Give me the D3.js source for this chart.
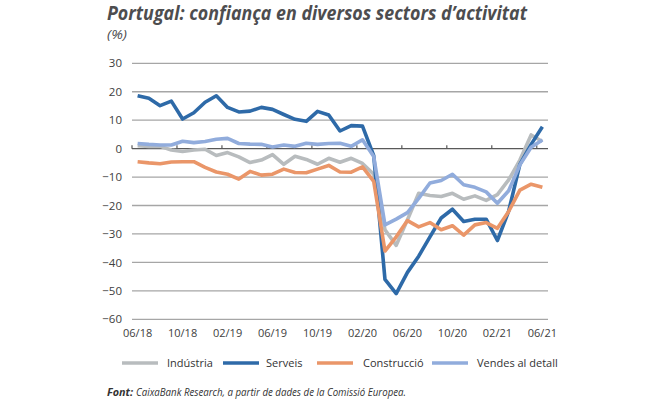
<!DOCTYPE html>
<html>
<head>
<meta charset="utf-8">
<script src="https://cdn.jsdelivr.net/npm/d3@7"></script>
<style>
  html, body { margin: 0; padding: 0; background: #fff; }
  svg { display: block; }
  text { font-family: "Open Sans", "Noto Sans", sans-serif; }
</style>
</head>
<body>
<svg id="chart" width="670" height="399"></svg>
<script>
const months = ["06/18","07/18","08/18","09/18","10/18","11/18","12/18","01/19","02/19","03/19","04/19","05/19",
  "06/19","07/19","08/19","09/19","10/19","11/19","12/19","01/20","02/20","03/20","04/20","05/20",
  "06/20","07/20","08/20","09/20","10/20","11/20","12/20","01/21","02/21","03/21","04/21","05/21","06/21"];
const tickLabels = ["06/18","10/18","02/19","06/19","10/19","02/20","06/20","10/20","02/21","06/21"];
const yTicks = [30, 20, 10, 0, -10, -20, -30, -40, -50, -60];

const industria = [1.0, 0.8, 0.8, -0.5, -1.0, -0.5, -0.2, -2.4, -1.4, -2.9, -4.9, -4.0, -2.1, -5.5, -2.7, -3.8,
  -5.5, -3.4, -4.8, -3.4, -5.2, -9.0, -28.5, -34.0, -25.0, -15.7, -16.5, -16.8, -15.7, -17.8, -16.6, -18.2,
  -16.2, -11.0, -4.0, 4.8, 2.5];
const serveis = [18.6, 17.7, 15.1, 16.7, 10.4, 12.6, 16.3, 18.6, 14.5, 12.9, 13.2, 14.5, 13.8, 12.0, 10.3, 9.6,
  13.1, 11.8, 6.2, 8.1, 7.9, -2.5, -46.0, -51.0, -43.5, -37.8, -31.0, -24.4, -21.3, -25.6, -24.8, -24.8,
  -32.3, -22.0, -5.5, 1.5, 7.7];
const construccio = [-4.6, -5.0, -5.3, -4.7, -4.6, -4.6, -6.6, -8.2, -9.0, -10.7, -8.0, -9.3, -9.0, -7.2, -8.4, -8.5,
  -7.2, -5.9, -8.2, -8.3, -6.4, -11.5, -36.0, -31.0, -25.3, -27.5, -26.0, -28.5, -27.1, -30.4, -26.8, -26.0,
  -28.0, -22.1, -14.6, -12.5, -13.6];
const vendes = [1.8, 1.5, 1.3, 1.3, 2.6, 2.1, 2.5, 3.3, 3.6, 1.8, 1.6, 1.5, 0.6, 1.3, 0.8, 1.9,
  1.5, 1.8, 1.9, 0.8, 3.1, -2.8, -26.8, -24.8, -22.5, -17.5, -12.1, -11.2, -9.0, -12.7, -13.6, -15.2,
  -19.2, -14.8, -5.7, 0.5, 3.0];

const seriesNames = ["Indústria", "Serveis", "Construcció", "Vendes al detall"];
const seriesColors = ["#b8bcbe", "#2e6aa8", "#ea9669", "#91acdc"];
const seriesValues = [industria, serveis, construccio, vendes];

const svg = d3.select("#chart");
const x = d3.scaleBand().domain(months).range([132, 548]).padding(0);
const y = d3.scaleLinear().domain([-60, 30]).range([319.3, 63.3]);
const cx = m => x(m) + x.bandwidth() / 2;

// Title
svg.append("text").attr("x", 107).attr("y", 20)
  .attr("font-size", 19).attr("font-weight", "bold").attr("font-style", "italic")
  .attr("fill", "#4d4d4f").attr("textLength", 420).attr("lengthAdjust", "spacingAndGlyphs")
  .text("Portugal: confiança en diversos sectors d’activitat");
svg.append("text").attr("x", 107).attr("y", 39)
  .attr("font-size", 12.5).attr("font-style", "italic").attr("fill", "#4d4d4f")
  .attr("textLength", 20).attr("lengthAdjust", "spacingAndGlyphs")
  .text("(%)");

// Gridlines
svg.append("g").selectAll("line").data(yTicks.filter(d => d !== 0)).join("line")
  .attr("x1", 132).attr("x2", 548)
  .attr("y1", d => y(d)).attr("y2", d => y(d))
  .attr("stroke", "#a6a6a6").attr("stroke-width", 1.3);

// Y axis labels
const yAxis = d3.axisLeft(y).tickValues(yTicks).tickSize(0).tickPadding(0);
const yg = svg.append("g").attr("transform", "translate(122,0)").call(yAxis);
yg.select(".domain").remove();
yg.selectAll("text").attr("font-size", 11.5).attr("fill", "#404040")
  .attr("font-family", "'Open Sans', sans-serif");

// Zero axis line with ticks
svg.append("line").attr("x1", 132).attr("x2", 548).attr("y1", y(0)).attr("y2", y(0))
  .attr("stroke", "#595959").attr("stroke-width", 1.3);
const tickMonths = months.filter((m, i) => i % 4 === 0);
svg.append("g").selectAll("line").data(tickMonths).join("line")
  .attr("x1", d => x(d)).attr("x2", d => x(d))
  .attr("y1", y(0) - 3.5).attr("y2", y(0))
  .attr("stroke", "#595959").attr("stroke-width", 1.2);

// X labels
const xAxis = d3.axisBottom(x).tickValues(tickLabels).tickSize(0).tickPadding(0);
const xg = svg.append("g").attr("transform", "translate(0,329)").call(xAxis);
xg.select(".domain").remove();
xg.selectAll("text").attr("font-size", 11).attr("fill", "#404040")
  .attr("font-family", "'Open Sans', sans-serif");

// Lines
const line = d3.line().x((d, i) => cx(months[i])).y(d => y(d));
seriesValues.forEach((vals, k) => {
  svg.append("path").datum(vals)
    .attr("d", line)
    .attr("fill", "none")
    .attr("stroke", seriesColors[k])
    .attr("stroke-width", 3.6)
    .attr("stroke-linejoin", "round")
    .attr("stroke-linecap", "butt");
});

// Legend
const legendPos = [
  {x1: 122, x2: 158, tx: 167},
  {x1: 223, x2: 259, tx: 266},
  {x1: 317, x2: 353, tx: 363},
  {x1: 432, x2: 468, tx: 477}
];
seriesNames.forEach((name, k) => {
  const p = legendPos[k];
  svg.append("line").attr("x1", p.x1).attr("x2", p.x2).attr("y1", 363).attr("y2", 363)
    .attr("stroke", seriesColors[k]).attr("stroke-width", 3.6);
  svg.append("text").attr("x", p.tx).attr("y", 367)
    .attr("font-size", 11).attr("fill", "#333").text(name);
});

// Source
svg.append("text").attr("x", 107).attr("y", 396)
  .attr("font-size", 11).attr("font-style", "italic").attr("font-weight", "bold").attr("fill", "#333")
  .attr("textLength", 26).attr("lengthAdjust", "spacingAndGlyphs")
  .text("Font:");
svg.append("text").attr("x", 136).attr("y", 396)
  .attr("font-size", 11).attr("font-style", "italic").attr("fill", "#333")
  .attr("textLength", 270).attr("lengthAdjust", "spacingAndGlyphs")
  .text("CaixaBank Research, a partir de dades de la Comissió Europea.");
</script>
</body>
</html>
